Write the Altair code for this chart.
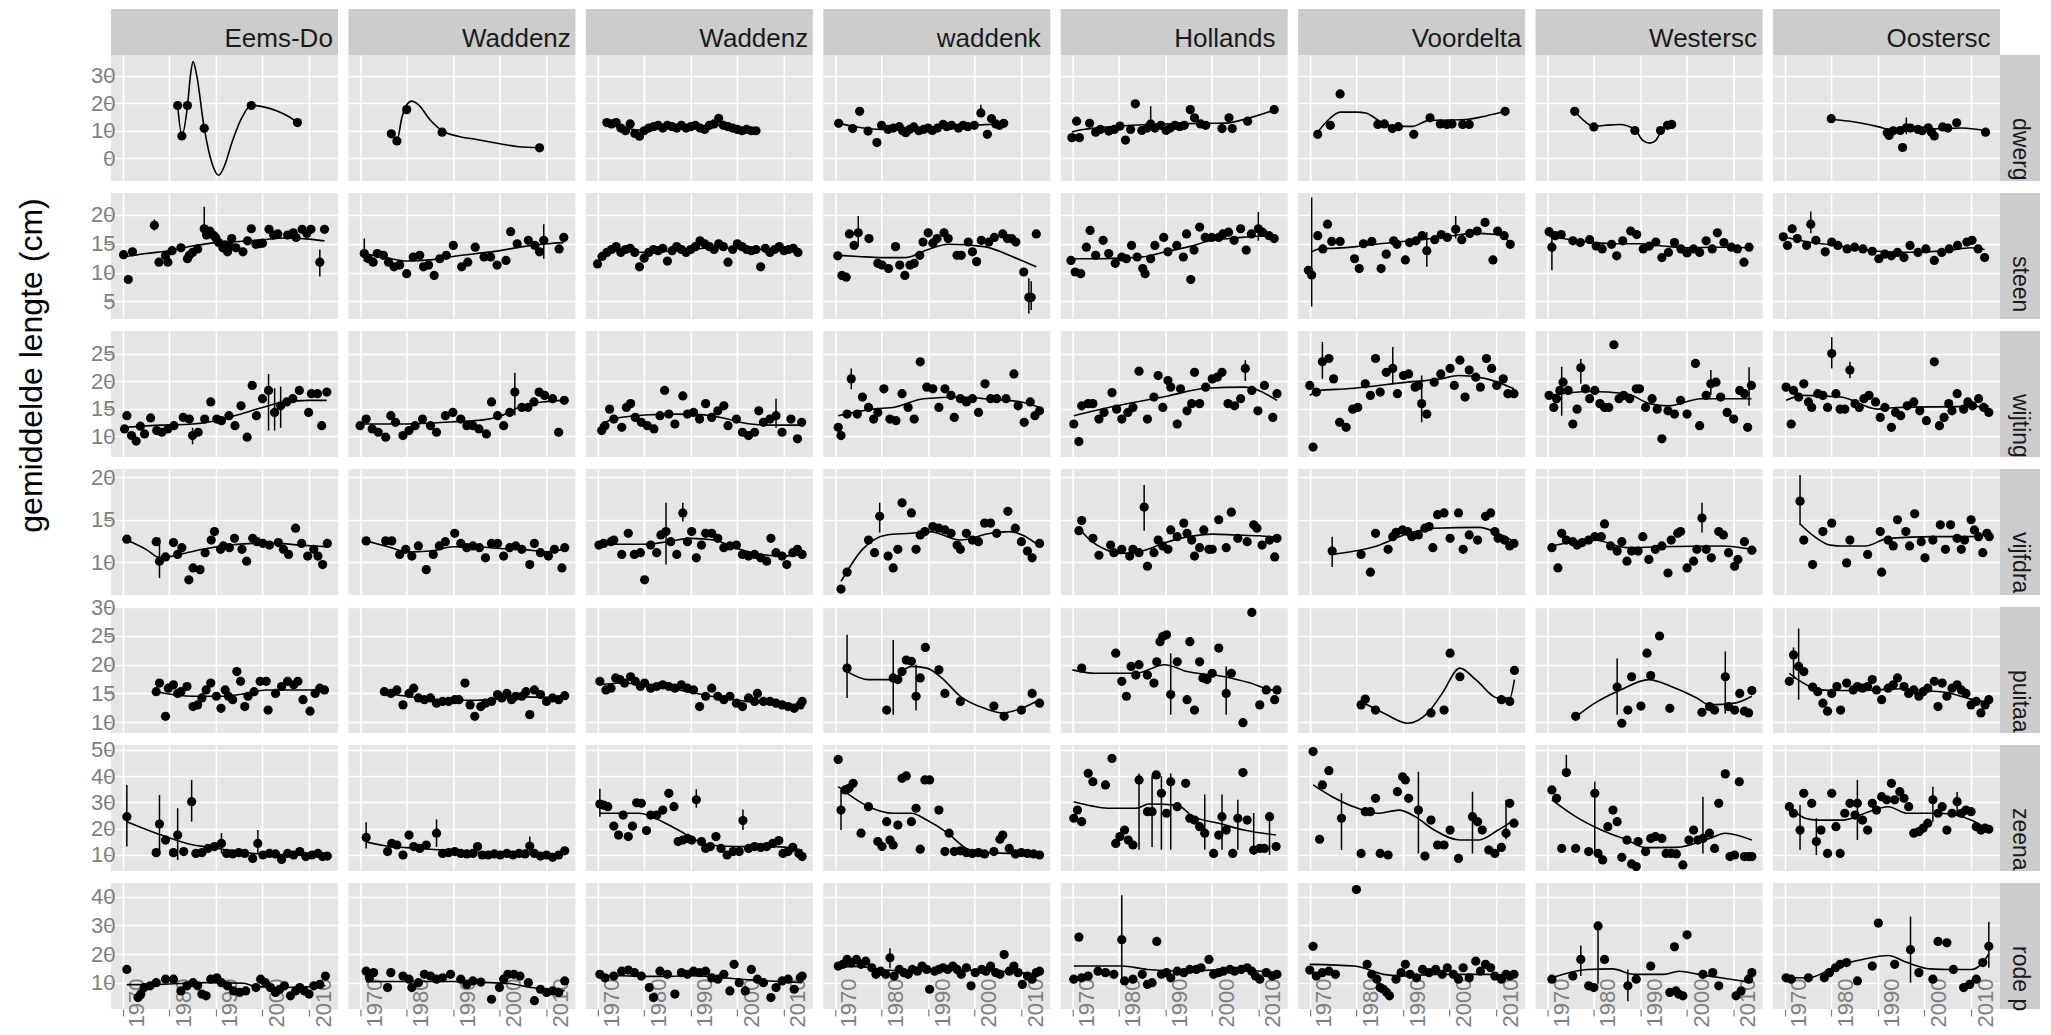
import altair as alt
import pandas as pd

REGIONS = ["Eems-Dollard", "Waddenzee west", "Waddenzee oost", "waddenkust",
           "Hollandse kust", "Voordelta", "Westerschelde", "Oosterschelde"]
SPECIES = ["dwergtong", "steenbolk", "wijting", "vijfdradige meun",
           "puitaal", "zeenaald", "rode poon"]

X_DOMAIN = [1967.5, 2016.2]
X_TICKS = [1970, 1980, 1990, 2000, 2010]
Y_DOMAINS = [[-8.3, 37.6], [1.95, 23.8], [6.2, 29.1], [6.1, 21.0],
             [8.1, 30.05], [3.9, 51.9], [0.8, 44.8]]
Y_TICKS = [[0, 10, 20, 30], [5, 10, 15, 20], [10, 15, 20, 25], [10, 15, 20],
           [10, 15, 20, 25, 30], [10, 20, 30, 40, 50], [10, 20, 30, 40]]

# ---------------- dwergtong ----------------
DWERGTONG_PTS = [
    [(1981.8, 19.2), (1982.7, 8.1), (1983.9, 19.2), (1987.5, 10.9), (1997.6, 19.2), (2007.5, 13.0)],
    [(1976.7, 8.9), (1977.9, 6.3), (1980.0, 17.7), (1987.6, 9.5), (2008.5, 3.8)],
    [(1972, 13), (1973, 12.5), (1974, 13), (1975, 11), (1976, 10), (1977, 12.5), (1978, 9), (1979, 8),
     (1980, 10), (1981, 11), (1982, 11.5), (1983, 12), (1984, 11), (1985, 12), (1986, 11.5), (1987, 11),
     (1988, 12), (1989, 11), (1990, 11.5), (1991, 12), (1992, 11), (1993, 10.5), (1994, 12), (1995, 12.5),
     (1996, 14.5), (1997, 12), (1998, 11.5), (1999, 11), (2000, 10.5), (2001, 10), (2002, 10.5), (2003, 10), (2004, 10)],
    [(1970.8, 12.7), (1973.8, 10.8), (1975.3, 17.1), (1977.1, 9.9), (1979.0, 5.7), (1980.0, 12.0), (1981.4, 10.5),
     (1982.5, 11.0), (1983.8, 11.5), (1984.5, 10.0), (1985.2, 9.3), (1986.0, 10.5), (1986.9, 11.4), (1988.0, 10.0),
     (1989.0, 10.5), (1990.0, 11.0), (1990.9, 10.1), (1992.0, 11.0), (1993.2, 12.3), (1994.0, 11.5), (1995.0, 12.0),
     (1996.5, 11.0), (1997.5, 12.0), (1998.5, 11.5), (1999.9, 12.0), (2001.3, 16.5), (2002.7, 8.7), (2003.6, 14.4),
     (2004.5, 12.5), (2005.3, 12.0), (2006.2, 12.7)],
    [(1969.9, 7.5), (1970.9, 13.5), (1971.5, 7.5), (1973.7, 12.7), (1975.0, 9.5), (1976.0, 10.5), (1977.8, 9.9),
     (1979.0, 10.5), (1980.2, 11.7), (1981.4, 6.6), (1982.5, 10.5), (1983.5, 19.8), (1984.9, 10.1), (1986.0, 11.0),
     (1986.8, 12.5), (1987.7, 11.0), (1989.0, 12.0), (1990.1, 10.1), (1991.0, 11.0), (1992.0, 12.0), (1993.0, 11.5),
     (1994.0, 12.0), (1995.3, 17.7), (1996.2, 14.7), (1997.5, 12.5), (1998.6, 12.0), (2002.1, 10.8), (2003.6, 14.7),
     (2004.3, 10.8), (2007.6, 13.5), (2013.3, 17.7)],
    [(1971.7, 8.7), (1974.4, 12.0), (1976.5, 23.4), (1984.6, 12.3), (1986.0, 12.5), (1987.7, 10.8), (1989.0, 11.5),
     (1992.3, 8.7), (1995.8, 14.7), (1998.0, 12.5), (1999.4, 12.3), (2000.5, 12.5), (2002.8, 12.3), (2004.2, 12.3),
     (2011.9, 17.1)],
    [(1975.9, 17.1), (1980.0, 11.4), (1988.8, 10.1), (1994.3, 10.1), (1995.8, 12.0), (1996.7, 12.3)],
    [(1980.0, 14.4), (1992.0, 9.3), (1992.4, 8.3), (1993.3, 10.0), (1994.8, 10.1), (1995.3, 3.9), (1996.1, 11.1),
     (1997.0, 11.0), (1998.6, 10.5), (1999.5, 10.0), (2000.8, 11.1), (2001.5, 9.5), (2002.1, 8.1), (2003.9, 11.4),
     (2005.0, 11.0), (2006.9, 12.9), (2013.1, 9.5)],
]
DWERGTONG_FIT = [
    [(1981.8, 19.2), (1982.7, 8.3), (1983.9, 19.0), (1984.6, 31), (1985.1, 35.2), (1985.8, 31), (1987.5, 11),
     (1989.2, -2), (1990.6, -6.2), (1991.8, -3), (1993.5, 6), (1995.5, 14.5), (1997.6, 19.3), (2000, 18.8),
     (2003, 17.3), (2005.5, 15.3), (2007.5, 13)],
    [(1976.7, 8.9), (1977.9, 6.6), (1979, 15), (1980, 19.5), (1981.1, 20.8), (1982.5, 19.5), (1985, 14),
     (1987.6, 10), (1991, 8), (1995, 6.8), (2000, 5.3), (2004, 4.2), (2008.5, 3.9)],
    [(1972, 12.3), (1976, 11), (1979, 10.3), (1982, 11), (1986, 11.5), (1990, 11.5), (1994, 11.8), (1997, 12),
     (2000, 11), (2004, 10.2)],
    [(1970.8, 12.7), (1975, 11.3), (1980, 10.5), (1985, 10.5), (1990, 10.8), (1995, 11.3), (2000, 12),
     (2003, 12.3), (2006.2, 12.6)],
    [(1969.9, 9.6), (1972, 10.4), (1975, 11), (1981, 11.8), (1986, 12.3), (1992, 12.5), (1998, 12.7), (2003, 12.8),
     (2007.6, 14.5), (2013.3, 17.5)],
    [(1971.7, 9.5), (1974, 14), (1976.5, 16.8), (1980, 16.8), (1982, 16.5), (1985, 13.5), (1988, 11.6),
     (1992, 11.6), (1995.6, 13.8), (2000, 13.9), (2004, 14.2), (2008, 15.5), (2011.9, 17.1)],
    [(1975.9, 17.1), (1978, 13.5), (1980, 11.6), (1982.5, 12), (1985.5, 12.3), (1988.8, 10.5), (1990.5, 6.5),
     (1992, 5.5), (1993.3, 6.5), (1994.3, 9.5), (1995.8, 12), (1996.7, 12.4)],
    [(1980, 14.2), (1985, 13.2), (1990, 11.5), (1993, 10.3), (1996, 10.5), (2000, 10.6), (2004, 10.8),
     (2008, 11), (2013.1, 10)],
]

# ---------------- steenbolk ----------------
STEENBOLK_PTS = [
    [(1970.2, 13.1), (1971.2, 8.8), (1972.1, 13.6), (1976.8, 18.2), (1977.8, 11.8), (1979.2, 12.9), (1979.7, 11.8),
     (1980.6, 13.8), (1982.5, 14.3), (1983.9, 12.4), (1984.3, 13.0), (1985.0, 13.5), (1986.1, 14.1), (1987.5, 17.6),
     (1988.0, 16.5), (1988.7, 17.2), (1989.6, 16.4), (1990.0, 16.0), (1990.6, 15.2), (1991.5, 14.3), (1992.0, 14.8),
     (1992.5, 13.6), (1993.0, 14.5), (1993.4, 15.9), (1994.3, 14.3), (1995.8, 13.6), (1996.8, 15.5), (1997.6, 17.6),
     (1998.6, 14.9), (1999.3, 15.0), (2000.0, 15.1), (2001.4, 17.5), (2002.4, 16.5), (2003.3, 16.7), (2005.4, 16.5),
     (2006.6, 16.9), (2007.2, 16.1), (2008.5, 17.5), (2009.5, 16.8), (2010.4, 17.5), (2012.3, 11.8), (2013.3, 17.5)],
    [(1970.9, 13.3), (1971.8, 12.4), (1972.8, 11.8), (1973.7, 13.3), (1975.0, 13.0), (1976.1, 11.8), (1977.3, 11.0),
     (1978.5, 11.3), (1980.0, 9.8), (1981.4, 12.7), (1982.8, 13.0), (1983.6, 11.0), (1984.7, 11.3), (1985.9, 9.5),
     (1987.1, 12.4), (1988.5, 13.0), (1990.0, 14.7), (1991.8, 11.0), (1993.1, 11.8), (1994.7, 14.4), (1996.6, 12.7),
     (1998.0, 12.7), (1999.4, 11.3), (2001.3, 12.1), (2002.3, 17.1), (2003.7, 15.0), (2006.1, 15.6), (2007.5, 14.7),
     (2008.5, 13.6), (2009.4, 15.6), (2012.7, 14.1), (2013.7, 16.1)],
    [(1970, 11.5), (1971, 12.8), (1972, 13.5), (1973, 14), (1974, 14.5), (1975, 13.5), (1976, 14), (1977, 14.2),
     (1978, 13.5), (1979, 11), (1980, 12.5), (1981, 13.5), (1982, 14), (1983, 13.8), (1984, 14.2), (1985, 12),
     (1986, 13.8), (1987, 14.5), (1988, 14), (1989, 13.5), (1990, 14), (1991, 14.5), (1992, 15.5), (1993, 15),
     (1994, 14.5), (1995, 14), (1996, 15), (1997, 14.5), (1998, 11.8), (1999, 14), (2000, 15), (2001, 14.5),
     (2002, 14), (2003, 13.8), (2004, 14), (2005, 11), (2006, 14.2), (2007, 13.5), (2008, 14), (2009, 14.5),
     (2010, 13.8), (2011, 14), (2012, 14.2), (2013, 13.5)],
    [(1970.6, 12.9), (1971.5, 9.5), (1972.4, 9.2), (1973.1, 16.7), (1974.1, 14.7), (1975.0, 16.9), (1977.3, 15.9),
     (1979.2, 11.6), (1980.1, 11.3), (1981.5, 10.7), (1983.0, 14.5), (1983.9, 11.3), (1985.0, 9.5), (1986.1, 11.3),
     (1987.0, 11.6), (1988.2, 13.0), (1988.9, 15.3), (1990.0, 16.9), (1991.0, 15.1), (1991.9, 15.9), (1993.4, 16.9),
     (1994.3, 15.9), (1996.2, 13.0), (1997.1, 13.0), (1998.6, 15.3), (1999.5, 13.6), (2000.4, 11.9), (2001.4, 15.6),
     (2003.0, 15.3), (2004.2, 16.1), (2006.0, 16.7), (2007.0, 15.9), (2007.9, 15.9), (2008.8, 15.3), (2010.5, 10.1),
     (2011.6, 5.7), (2012.1, 5.7), (2013.2, 16.7)],
    [(1969.7, 12.1), (1970.6, 10.1), (1971.8, 9.8), (1973.0, 14.4), (1973.8, 17.3), (1975.0, 13.0), (1976.6, 15.6),
     (1977.8, 13.3), (1979.2, 11.6), (1980.6, 12.7), (1981.6, 12.4), (1982.7, 14.7), (1983.9, 12.7), (1985.1, 10.7),
     (1985.6, 9.8), (1986.8, 12.4), (1987.7, 14.7), (1989.6, 16.1), (1990.5, 13.6), (1992.4, 14.7), (1993.8, 12.7),
     (1994.5, 16.7), (1995.4, 8.8), (1996.1, 13.9), (1997.3, 17.9), (1998.5, 16.1), (1999.9, 16.1), (2001.4, 16.1),
     (2002.3, 16.7), (2003.5, 17.0), (2004.7, 15.6), (2006.1, 17.6), (2007.3, 13.9), (2008.4, 16.7), (2009.9, 17.6),
     (2010.8, 17.0), (2012.2, 16.4), (2013.3, 15.9)],
    [(1969.7, 10.4), (1970.4, 9.6), (1971.7, 16.4), (1972.8, 14.1), (1973.8, 18.4), (1974.7, 15.4), (1976.5, 15.4),
     (1979.6, 12.4), (1980.6, 10.7), (1981.5, 15.0), (1983.3, 15.4), (1985.3, 10.7), (1986.4, 13.2), (1988.0, 15.5),
     (1988.7, 14.9), (1990.5, 12.2), (1991.4, 15.2), (1992.8, 15.5), (1994.1, 16.4), (1995.1, 13.8), (1996.8, 15.7),
     (1998.2, 16.6), (1999.5, 16.1), (2001.3, 17.5), (2002.6, 15.7), (2004.3, 16.8), (2005.9, 17.2), (2007.6, 18.7),
     (2009.3, 12.2), (2010.3, 17.2), (2011.7, 16.4), (2013.0, 14.9)],
    [(1970.4, 17.1), (1971.0, 14.4), (1971.7, 16.4), (1973.0, 16.6), (1975.5, 15.5), (1977.1, 15.2), (1979.1, 15.7),
     (1980.5, 14.6), (1981.8, 14.1), (1983.8, 14.9), (1984.9, 12.9), (1986.2, 15.5), (1987.9, 17.2), (1989.2, 16.6),
     (1990.6, 14.1), (1991.9, 14.6), (1993.3, 15.3), (1994.6, 12.6), (1996.0, 13.5), (1997.3, 15.2), (1998.7, 14.1),
     (2000.0, 13.4), (2001.4, 14.1), (2002.7, 13.5), (2004.1, 15.5), (2005.4, 14.1), (2006.5, 16.9), (2007.9, 15.2),
     (2009.5, 14.4), (2010.8, 14.1), (2012.2, 11.8), (2013.3, 14.4)],
    [(1969.7, 16.2), (1970.6, 14.7), (1971.6, 17.6), (1972.7, 15.9), (1974.7, 14.7), (1975.6, 18.4), (1976.7, 15.6),
     (1978.7, 13.6), (1980.1, 15.3), (1981.4, 14.7), (1983.4, 14.1), (1985.0, 14.4), (1986.8, 14.1), (1988.8, 13.7),
     (1990.2, 12.4), (1991.5, 13.2), (1992.9, 12.9), (1994.2, 13.5), (1995.6, 12.6), (1996.9, 14.7), (1998.6, 13.5),
     (2000.3, 14.1), (2002.1, 12.1), (2003.7, 13.5), (2005.3, 14.1), (2007.1, 14.7), (2009.1, 15.3), (2010.2, 15.6),
     (2011.5, 14.1), (2012.9, 12.6)],
]
STEENBOLK_FIT = [
    [(1970.2, 12.7), (1975, 13.3), (1980, 13.8), (1985, 14.6), (1990, 15.2), (1995, 15.4), (2000, 15.7),
     (2005, 16), (2010, 15.8), (2013.3, 15.5)],
    [(1970.9, 13.3), (1976, 12.5), (1980, 12), (1985, 12.2), (1990, 12.8), (1995, 13.3), (2000, 13.8),
     (2005, 14.5), (2010, 15), (2013.7, 15.2)],
    [(1970, 12.8), (1975, 13.8), (1980, 13.5), (1990, 14), (1995, 14.3), (2005, 14), (2013, 13.8)],
    [(1970.6, 13), (1975, 12.8), (1980, 12.6), (1985.2, 12.6), (1990, 14), (1994.3, 14.9), (2002, 14.5),
     (2008, 12.8), (2013.2, 11)],
    [(1969.7, 12.4), (1975, 12.4), (1980, 12.5), (1985, 12.7), (1990, 13.6), (1995, 14.5), (2000, 15.6),
     (2005, 16), (2010, 16.3), (2013.3, 16.3)],
    [(1970.4, 13.6), (1972, 14.1), (1975, 14.2), (1980, 14.5), (1985, 15), (1990, 15.4), (1995, 15.8),
     (2000, 16.3), (2005, 16.8), (2010, 16.6), (2013, 15.3)],
    [(1970.4, 16.3), (1975, 15.7), (1980, 15.2), (1985, 15), (1990, 15), (1995, 14.6), (2000, 14.3),
     (2005, 14.4), (2010, 14.4), (2013.3, 14.3)],
    [(1969.7, 16.2), (1975, 15.3), (1980, 14.8), (1985, 14.2), (1990, 13.7), (1995, 13.5), (2000, 13.6),
     (2005, 13.8), (2010, 14.3), (2012.9, 14)],
]

# ---------------- wijting ----------------
WIJTING_PTS = [
    [(1970.4, 11.3), (1970.9, 13.7), (1971.9, 10.1), (1972.9, 9.1), (1973.8, 11.8), (1974.7, 10.4), (1976.0, 13.3),
     (1977.3, 11.0), (1978.4, 10.7), (1979.7, 11.3), (1981.0, 11.9), (1983.0, 13.4), (1984.3, 13.1), (1985.0, 10.1),
     (1986.2, 10.7), (1987.6, 13.1), (1988.9, 16.2), (1990.2, 13.1), (1991.2, 12.8), (1992.8, 13.7), (1994.1, 11.9),
     (1995.4, 15.5), (1996.7, 9.8), (1997.8, 19.2), (1998.7, 13.7), (2000.0, 16.8), (2001.3, 18.3), (2002.6, 14.3),
     (2003.9, 15.5), (2005.2, 16.2), (2006.5, 16.8), (2007.9, 18.3), (2009.9, 14.3), (2010.5, 17.7), (2011.8, 17.7),
     (2012.7, 11.9), (2013.8, 18.0)],
    [(1970.0, 11.9), (1971.3, 13.1), (1972.6, 11.3), (1973.9, 10.7), (1975.5, 9.8), (1976.6, 13.7), (1977.6, 12.5),
     (1979.2, 10.1), (1980.5, 11.0), (1981.8, 11.9), (1983.4, 13.1), (1985.1, 11.9), (1986.4, 10.7), (1988.3, 13.7),
     (1989.9, 14.3), (1991.6, 13.1), (1992.9, 11.9), (1994.2, 11.9), (1995.5, 11.3), (1997.1, 10.4), (1998.2, 16.2),
     (1999.5, 13.7), (2000.8, 11.9), (2002.1, 14.3), (2003.2, 18.0), (2004.7, 15.2), (2006.0, 15.2), (2007.3, 16.2),
     (2008.4, 18.0), (2009.6, 17.4), (2011.3, 16.8), (2012.6, 10.7), (2013.8, 16.5)],
    [(1970.9, 11.0), (1971.6, 11.9), (1972.6, 14.9), (1973.5, 13.1), (1975.2, 11.6), (1976.2, 15.2), (1977.1, 15.9),
     (1978.1, 13.4), (1979.4, 12.5), (1980.7, 11.9), (1982.1, 11.3), (1983.4, 13.7), (1984.4, 18.3), (1985.3, 14.0),
     (1986.6, 12.2), (1988.3, 17.3), (1989.3, 14.0), (1990.6, 14.3), (1991.9, 13.1), (1993.2, 15.9), (1994.5, 13.4),
     (1995.8, 14.6), (1997.1, 15.5), (1998.0, 11.9), (1999.8, 13.1), (2001.1, 10.7), (2002.4, 10.1), (2003.7, 10.7),
     (2004.6, 14.6), (2005.6, 12.5), (2007.0, 13.1), (2008.3, 13.7), (2009.6, 10.7), (2011.5, 13.1), (2012.9, 9.5),
     (2013.8, 12.5)],
    [(1970.7, 11.6), (1971.3, 10.1), (1972.6, 14.0), (1973.5, 20.4), (1974.8, 14.0), (1975.9, 17.1), (1977.2, 15.2),
     (1978.3, 13.1), (1979.2, 14.3), (1980.5, 18.6), (1981.8, 13.1), (1983.1, 12.8), (1984.4, 17.7), (1985.7, 15.2),
     (1987.0, 13.1), (1988.3, 23.5), (1989.7, 18.9), (1991.0, 18.6), (1992.3, 15.2), (1993.6, 18.6), (1994.9, 17.4),
     (1995.6, 13.4), (1996.9, 16.8), (1998.2, 16.2), (1999.5, 16.8), (2000.8, 14.3), (2002.2, 19.5), (2003.4, 16.8),
     (2004.7, 16.8), (2006.7, 16.8), (2008.4, 21.3), (2009.3, 15.5), (2010.6, 12.5), (2011.9, 16.2), (2012.9, 13.7),
     (2013.9, 14.6)],
    [(1970.3, 12.2), (1971.4, 9.0), (1972.0, 15.5), (1973.4, 15.9), (1974.4, 15.9), (1975.7, 13.1), (1976.8, 14.3),
     (1978.5, 17.9), (1979.5, 14.9), (1980.6, 13.1), (1981.9, 14.3), (1983.0, 15.2), (1984.3, 21.8), (1986.1, 13.1),
     (1987.5, 17.1), (1988.4, 21.0), (1989.4, 15.2), (1990.5, 20.1), (1991.1, 18.9), (1992.5, 12.2), (1993.2, 18.6),
     (1994.6, 14.6), (1995.6, 15.9), (1996.2, 21.6), (1997.3, 15.9), (1998.6, 18.9), (2000.0, 20.4), (2001.1, 20.7),
     (2002.1, 21.6), (2003.4, 15.9), (2004.8, 15.5), (2006.1, 16.8), (2007.1, 22.3), (2008.5, 18.3), (2009.8, 14.6),
     (2011.2, 19.2), (2013.0, 13.4), (2013.9, 17.7)],
    [(1970.0, 19.2), (1970.7, 8.0), (1971.4, 18.0), (1972.7, 23.5), (1974.1, 24.1), (1975.1, 20.4), (1976.4, 12.5),
     (1977.8, 11.6), (1979.2, 14.9), (1980.3, 15.2), (1981.9, 19.5), (1983.0, 17.4), (1984.1, 24.1), (1985.1, 18.0),
     (1986.4, 21.6), (1987.8, 22.3), (1988.8, 17.7), (1990.1, 21.0), (1991.2, 21.3), (1992.6, 18.9), (1993.3, 19.2),
     (1994.0, 15.9), (1995.1, 14.0), (1996.7, 19.8), (1998.1, 21.3), (2000.1, 22.3), (2001.0, 19.2), (2002.2, 23.8),
     (2003.3, 17.1), (2004.2, 22.0), (2005.6, 20.7), (2006.6, 18.9), (2007.9, 24.1), (2009.0, 22.3), (2010.1, 19.2),
     (2011.5, 20.4), (2012.5, 17.7), (2013.8, 17.7)],
    [(1970.4, 17.4), (1971.4, 15.2), (1972.0, 16.8), (1972.7, 18.3), (1973.4, 19.8), (1974.5, 18.3), (1975.5, 12.2),
     (1976.4, 14.9), (1977.2, 22.4), (1978.2, 18.6), (1979.1, 16.8), (1980.2, 18.3), (1981.3, 15.9), (1982.3, 15.2),
     (1983.2, 15.2), (1984.3, 26.6), (1985.4, 16.8), (1986.4, 17.4), (1987.7, 16.8), (1989.1, 18.6), (1989.8, 18.6),
     (1991.1, 15.2), (1992.5, 16.8), (1993.6, 14.9), (1994.6, 9.5), (1995.9, 14.6), (1997.3, 14.0), (1998.6, 16.5),
     (2000.0, 14.0), (2001.8, 23.2), (2002.7, 11.9), (2004.1, 17.4), (2005.1, 19.5), (2006.2, 19.8), (2007.2, 17.1),
     (2008.6, 14.3), (2010.0, 13.1), (2011.3, 18.3), (2012.3, 17.7), (2013.0, 11.6), (2013.8, 19.2)],
    [(1970.3, 18.9), (1971.4, 12.2), (1971.9, 18.3), (1973.0, 17.1), (1974.1, 19.5), (1975.1, 16.2), (1975.8, 15.2),
     (1977.1, 17.7), (1978.2, 17.4), (1979.2, 15.2), (1980.1, 25.0), (1981.0, 17.7), (1981.9, 14.9), (1982.9, 14.9),
     (1984.0, 22.0), (1985.1, 15.9), (1986.0, 15.2), (1987.0, 16.8), (1988.1, 17.4), (1989.5, 16.2), (1990.5, 13.4),
     (1991.5, 15.2), (1992.9, 11.6), (1993.8, 14.3), (1994.9, 13.7), (1996.3, 15.5), (1997.7, 16.2), (1999.0, 14.6),
     (2000.4, 12.8), (2002.1, 23.5), (2003.2, 11.9), (2004.2, 13.4), (2005.2, 15.9), (2005.9, 14.6), (2007.0, 17.7),
     (2008.4, 14.9), (2009.3, 16.2), (2010.3, 15.5), (2011.6, 16.8), (2012.7, 15.2), (2013.8, 14.3)],
]
WIJTING_FIT = [
    [(1970.4, 11.6), (1978.4, 12), (1985, 12.2), (1990, 12.8), (1994, 13.7), (2000, 15.2), (2004.5, 16.2),
     (2010, 16.5), (2013.8, 16.5)],
    [(1970, 12.2), (1980, 12.2), (1990, 12.6), (1996, 12.9), (2000, 13.6), (2004, 15.2), (2009, 16.2), (2013.8, 16.5)],
    [(1970.5, 11.9), (1973, 13), (1977, 13.6), (1982, 13.9), (1987, 14), (1992, 13.9), (1997, 13.3), (2002, 12.3),
     (2007, 12), (2013.8, 12)],
    [(1970.7, 13.7), (1978, 14.9), (1983, 15.3), (1989, 16.8), (1997, 17.1), (2002, 16.8), (2010, 16.2), (2013.9, 15.2)],
    [(1970.3, 13.7), (1979.5, 15.5), (1990.5, 17.3), (1998.6, 18.7), (2006.8, 18.9), (2013.9, 16.5)],
    [(1970, 17.4), (1972, 18.3), (1978, 18.6), (1991, 19.8), (1998, 20.4), (2002, 21), (2008, 20.4), (2013.8, 18.6)],
    [(1970.4, 17.4), (1979, 18.1), (1987, 17.7), (1992, 15.9), (1996, 15.5), (2003, 16.8), (2013.8, 16.8)],
    [(1970.3, 16.5), (1974, 17.4), (1982, 17.1), (1990, 14.9), (1994, 15.2), (2013.8, 15.4)],
]

# ---------------- vijfdradige meun ----------------
VIJFDRA_PTS = [
    [(1970.9, 12.7), (1977.2, 12.4), (1977.9, 10.1), (1979.2, 10.6), (1980.9, 12.3), (1981.8, 10.9), (1982.7, 11.7),
     (1984.2, 7.9), (1985.1, 9.3), (1986.6, 9.1), (1987.7, 11.1), (1989.0, 12.6), (1989.7, 13.6), (1991.0, 11.5),
     (1991.6, 11.9), (1992.9, 11.7), (1994.0, 12.8), (1995.6, 11.5), (1996.6, 10.1), (1997.9, 12.8), (1998.8, 12.4),
     (2000.1, 12.2), (2001.5, 12.0), (2003.4, 12.3), (2004.5, 11.5), (2005.6, 10.9), (2007.1, 14.0), (2008.4, 12.2),
     (2009.7, 10.7), (2011.0, 11.5), (2011.9, 10.7), (2012.9, 9.7), (2013.9, 12.2)],
    [(1971.3, 12.5), (1975.5, 12.5), (1976.8, 12.5), (1978.5, 10.9), (1979.8, 11.5), (1981.1, 10.7), (1982.5, 11.9),
     (1984.2, 9.1), (1985.7, 10.9), (1987.0, 11.9), (1988.3, 12.4), (1990.3, 13.4), (1991.6, 12.2), (1992.9, 11.7),
     (1994.2, 11.9), (1995.6, 11.7), (1996.9, 10.5), (1998.2, 12.2), (1999.5, 12.2), (2000.8, 10.7), (2002.1, 11.7),
     (2003.4, 11.9), (2004.7, 11.5), (2006.4, 9.7), (2007.4, 12.2), (2008.7, 11.1), (2010.4, 10.7), (2011.7, 11.5),
     (2013.3, 9.3), (2013.9, 11.7)],
    [(1970.3, 12.0), (1971.3, 12.2), (1972.9, 12.4), (1973.5, 12.6), (1975.2, 10.9), (1976.6, 13.4), (1977.9, 10.9),
     (1979.2, 11.1), (1980.1, 7.9), (1981.4, 12.0), (1982.7, 11.1), (1983.6, 13.2), (1984.7, 13.6), (1985.7, 12.4),
     (1987.0, 10.9), (1988.3, 15.8), (1989.3, 12.4), (1990.2, 13.6), (1991.2, 10.5), (1992.3, 12.0), (1993.2, 13.4),
     (1994.5, 13.4), (1995.8, 12.8), (1997.1, 11.7), (1998.4, 11.9), (1999.8, 12.0), (2001.1, 10.9), (2002.4, 10.7),
     (2003.7, 10.9), (2005.0, 10.5), (2006.3, 10.1), (2007.2, 12.8), (2008.3, 11.1), (2009.6, 10.7), (2010.6, 9.7),
     (2011.9, 11.1), (2012.9, 11.5), (2013.9, 10.9)],
    [(1971.3, 6.8), (1972.6, 8.8), (1977.2, 12.6), (1978.5, 11.1), (1979.6, 15.4), (1981.4, 10.7), (1982.5, 9.3),
     (1983.5, 11.5), (1984.4, 17.0), (1986.4, 15.8), (1987.4, 11.5), (1988.3, 13.2), (1989.3, 13.6), (1991.0, 14.2),
     (1992.3, 14.0), (1993.6, 13.8), (1994.9, 13.4), (1996.2, 12.0), (1996.9, 11.5), (1998.2, 13.4), (1999.5, 12.6),
     (2000.8, 12.4), (2002.1, 14.6), (2003.4, 14.6), (2004.7, 13.4), (2007.1, 16.0), (2008.7, 14.0), (2010.0, 12.4),
     (2011.3, 11.3), (2012.3, 10.5), (2013.9, 12.2)],
    [(1971.4, 13.7), (1972.0, 14.9), (1974.4, 12.8), (1975.7, 10.8), (1978.2, 12.0), (1978.9, 11.1), (1980.6, 11.5),
     (1982.3, 10.7), (1983.0, 11.5), (1984.3, 11.1), (1985.4, 16.5), (1986.1, 9.5), (1987.5, 11.1), (1988.4, 12.6),
     (1989.4, 11.9), (1990.5, 11.5), (1991.1, 13.8), (1992.5, 13.0), (1993.9, 14.6), (1994.6, 13.4), (1995.6, 12.6),
     (1996.2, 10.7), (1997.3, 11.7), (1998.2, 13.8), (1999.3, 11.5), (2000.0, 11.5), (2001.4, 15.0), (2003.0, 11.7),
     (2004.1, 15.9), (2005.5, 12.8), (2007.5, 12.4), (2008.9, 14.4), (2009.6, 14.0), (2010.7, 12.0), (2012.3, 12.6),
     (2013.4, 10.6), (2013.9, 12.8)],
    [(1974.8, 11.3), (1981.0, 10.9), (1983.0, 8.8), (1984.1, 13.4), (1986.8, 11.5), (1987.8, 13.0), (1988.5, 13.5),
     (1989.9, 13.8), (1991.0, 13.6), (1991.9, 13.0), (1993.3, 13.2), (1994.7, 14.0), (1995.6, 14.2), (1996.4, 11.7),
     (1997.4, 15.6), (1998.8, 15.8), (2000.1, 12.8), (2001.9, 15.8), (2002.9, 11.5), (2004.2, 13.2), (2006.0, 12.6),
     (2007.7, 15.4), (2008.8, 15.8), (2009.7, 13.6), (2010.4, 12.8), (2011.8, 12.6), (2012.9, 11.9), (2013.8, 12.2)],
    [(1971.0, 11.7), (1972.3, 9.3), (1973.1, 13.4), (1974.1, 12.6), (1975.5, 12.4), (1976.4, 12.0), (1977.5, 12.3),
     (1978.9, 12.6), (1980.2, 13.0), (1981.6, 13.0), (1982.3, 14.5), (1983.6, 11.9), (1985.0, 11.3), (1986.0, 12.4),
     (1987.1, 10.1), (1988.1, 11.3), (1989.5, 11.3), (1990.5, 13.0), (1991.8, 10.3), (1993.2, 11.5), (1994.6, 11.9),
     (1995.9, 8.7), (1996.6, 12.6), (1998.0, 13.4), (1998.6, 13.6), (2000.0, 9.3), (2001.4, 10.1), (2002.1, 11.5),
     (2003.2, 15.2), (2004.1, 11.5), (2005.2, 10.5), (2006.8, 13.6), (2007.8, 13.2), (2008.9, 11.1), (2010.2, 9.5),
     (2010.9, 10.3), (2012.3, 12.4), (2013.9, 11.4)],
    [(1973.3, 17.2), (1974.1, 12.6), (1976.0, 9.7), (1978.2, 13.6), (1980.1, 14.6), (1983.3, 9.9), (1984.0, 12.6),
     (1987.8, 10.9), (1990.5, 13.6), (1990.8, 8.8), (1992.2, 12.6), (1993.3, 11.9), (1994.2, 15.0), (1996.0, 13.6),
     (1996.8, 11.9), (1997.9, 15.7), (1999.3, 12.4), (2000.1, 10.5), (2001.8, 12.6), (2003.4, 14.4), (2004.5, 11.5),
     (2005.6, 14.4), (2007.0, 12.8), (2007.9, 11.5), (2008.6, 12.6), (2010.0, 15.0), (2010.7, 13.8), (2011.6, 13.0),
     (2012.5, 11.1), (2013.4, 13.4), (2013.9, 13.0)],
]
VIJFDRA_FIT = [
    [(1970.9, 12.6), (1975, 11.5), (1978, 10.5), (1983, 11), (1988, 11.6), (1993, 12), (1998, 12.2), (2003, 12.2),
     (2008, 12), (2013.9, 11.8)],
    [(1971.3, 12.5), (1976, 11.8), (1980, 11.2), (1985, 11.3), (1990, 11.8), (1995, 11.8), (2000, 11.6),
     (2005, 11.5), (2010, 11.2), (2013.9, 11.5)],
    [(1970.3, 12.2), (1975, 12.1), (1980, 12.1), (1985, 12.4), (1990, 12.8), (1995, 12.6), (2000, 11.6),
     (2005, 10.9), (2010, 10.7), (2013.9, 10.9)],
    [(1971.3, 7.7), (1975.9, 11.5), (1981.1, 13.2), (1986.4, 13.4), (1990.3, 13.6), (1996.9, 12.6), (2003.4, 13.4),
     (2007.4, 13.6), (2013.9, 11.9)],
    [(1971.4, 14), (1974, 12.5), (1977, 11.5), (1980, 11), (1985, 11.3), (1990, 12.3), (1995, 13), (2000, 13.3),
     (2005, 13.2), (2010, 13.1), (2013.9, 12.9)],
    [(1974.8, 10.9), (1984.4, 11.9), (1991.2, 13.4), (1996.7, 14), (2006.3, 14.1), (2010.4, 13.4), (2013.8, 12.4)],
    [(1971, 11.9), (1980.2, 12.6), (1987, 11.7), (1993.8, 11.8), (2007.5, 11.9), (2013.9, 11.5)],
    [(1973.3, 14.5), (1976.4, 13), (1979.8, 12), (1982.5, 11.9), (1987.3, 11.9), (1992.2, 12.8), (2001.8, 13),
     (2010, 13), (2013.9, 13.4)],
]

# ---------------- puitaal ----------------
PUITAAL_PTS = [
    [(1977.2, 15.3), (1977.9, 16.8), (1979.2, 11.0), (1979.8, 15.9), (1980.9, 16.5), (1981.8, 15.0), (1982.5, 15.3),
     (1983.8, 16.2), (1985.1, 12.7), (1986.1, 13.0), (1987.0, 14.2), (1987.9, 15.6), (1988.9, 16.8), (1990.1, 14.5),
     (1991.1, 12.4), (1992.0, 15.6), (1992.7, 14.5), (1993.6, 13.9), (1994.5, 18.8), (1995.3, 17.1), (1996.2, 12.7),
     (1996.9, 14.5), (1998.2, 15.3), (1999.5, 17.1), (2000.8, 17.1), (2001.2, 12.1), (2002.8, 15.0), (2004.1, 16.2),
     (2005.4, 17.1), (2006.7, 16.5), (2007.6, 17.1), (2008.7, 13.9), (2010.2, 11.9), (2011.3, 15.0), (2012.3, 15.9),
     (2013.3, 15.6)],
    [(1975.2, 15.3), (1976.6, 15.0), (1977.9, 15.6), (1979.2, 13.0), (1980.5, 15.0), (1981.5, 15.9), (1982.5, 14.2),
     (1983.8, 13.9), (1985.1, 14.2), (1986.4, 13.3), (1987.7, 13.6), (1989.0, 13.6), (1990.3, 13.9), (1991.2, 13.9),
     (1992.5, 16.8), (1993.6, 13.0), (1994.6, 11.0), (1995.9, 12.7), (1996.9, 13.3), (1998.2, 13.6), (1999.5, 14.8),
     (2000.4, 14.2), (2001.5, 15.0), (2002.5, 13.9), (2003.4, 14.5), (2004.7, 14.5), (2005.6, 15.3), (2006.4, 11.3),
     (2007.4, 15.6), (2008.7, 14.8), (2010.0, 13.6), (2011.3, 14.2), (2012.6, 13.9), (2013.9, 14.6)],
    [(1970.5, 17.1), (1971.8, 15.6), (1972.9, 15.9), (1973.9, 17.7), (1974.8, 17.4), (1975.8, 16.8), (1977.1, 17.9),
     (1978.1, 17.1), (1979.2, 16.2), (1980.1, 16.8), (1981.4, 15.9), (1982.7, 16.2), (1984.0, 16.5), (1985.3, 16.2),
     (1986.6, 15.9), (1988.0, 16.5), (1989.3, 15.9), (1990.6, 15.6), (1991.9, 12.7), (1993.2, 14.5), (1994.5, 15.9),
     (1995.8, 14.5), (1997.1, 13.9), (1998.4, 14.5), (1999.8, 13.3), (2001.1, 12.7), (2002.4, 14.2), (2003.7, 13.6),
     (2004.3, 15.0), (2005.6, 13.6), (2007.0, 13.6), (2008.3, 13.3), (2009.6, 13.0), (2010.9, 12.7), (2012.2, 12.4),
     (2013.5, 13.0), (2013.9, 13.6)],
    [(1972.6, 19.4), (1981.1, 12.1), (1982.5, 17.7), (1983.5, 17.4), (1984.4, 18.8), (1985.3, 20.8), (1986.4, 20.6),
     (1987.4, 14.5), (1988.3, 17.7), (1989.4, 23.0), (1992.3, 19.1), (1993.6, 15.0), (1996.9, 13.6), (2004.1, 12.8),
     (2006.3, 11.0), (2010.0, 12.1), (2012.3, 15.0), (2013.9, 13.3)],
    [(1972.0, 19.4), (1979.3, 22.0), (1980.6, 17.1), (1981.6, 14.5), (1982.6, 19.7), (1983.6, 18.2), (1984.3, 20.0),
     (1986.1, 18.2), (1987.5, 16.8), (1988.1, 20.5), (1988.8, 24.0), (1989.4, 24.9), (1990.2, 25.2), (1991.1, 14.8),
     (1992.5, 20.5), (1994.6, 13.9), (1995.2, 24.0), (1996.2, 12.1), (1997.3, 20.5), (1998.0, 17.7), (1998.9, 17.4),
     (2000.0, 18.5), (2001.4, 22.9), (2003.0, 15.0), (2004.1, 18.5), (2006.6, 9.9), (2008.5, 29.1), (2010.2, 13.0),
     (2011.6, 15.6), (2013.4, 13.9), (2013.9, 15.6)],
    [(1981.0, 13.0), (1981.9, 14.0), (1984.1, 12.1), (1996.0, 11.6), (1998.8, 12.1), (2000.1, 22.0), (2002.2, 17.9),
     (2011.1, 13.9), (2012.9, 13.6), (2013.9, 19.0)],
    [(1976.1, 11.0), (1985.0, 16.1), (1986.0, 9.8), (1987.3, 12.1), (1988.1, 17.9), (1990.1, 12.8), (1991.4, 22.0),
     (1992.2, 18.1), (1994.1, 25.0), (1996.3, 12.4), (2003.2, 11.7), (2004.8, 12.7), (2005.9, 12.1), (2008.2, 17.9),
     (2008.9, 12.7), (2010.2, 12.1), (2011.3, 15.0), (2012.3, 11.9), (2013.2, 11.6), (2013.9, 15.5)],
    [(1971.0, 17.1), (1971.9, 21.7), (1973.0, 19.7), (1974.1, 18.8), (1976.0, 16.1), (1977.1, 15.3), (1978.2, 13.3),
     (1979.2, 11.9), (1980.1, 15.0), (1981.2, 16.2), (1982.0, 12.1), (1983.3, 16.8), (1984.7, 15.6), (1985.6, 16.2),
     (1986.7, 15.9), (1987.8, 16.2), (1988.8, 17.4), (1989.7, 15.6), (1990.8, 13.9), (1992.2, 15.9), (1993.3, 16.5),
     (1994.2, 17.7), (1995.6, 16.2), (1996.6, 15.0), (1997.7, 15.6), (1998.8, 14.5), (1999.7, 15.3), (2000.7, 15.9),
     (2002.1, 17.1), (2002.9, 12.7), (2003.8, 16.8), (2004.8, 14.5), (2005.9, 15.9), (2007.0, 16.5), (2007.9, 15.6),
     (2008.9, 15.0), (2010.0, 13.0), (2011.1, 13.6), (2012.1, 11.6), (2013.0, 13.0), (2013.8, 13.9)],
]
PUITAAL_FIT = [
    [(1977.2, 15.3), (1985, 14.5), (1991, 14.5), (1995, 14.8), (2000.8, 15.6), (2013.3, 15.6)],
    [(1975.2, 15), (1980, 14.5), (1985, 14), (1990, 13.8), (1995, 13.8), (2000, 14), (2005, 14.4), (2010, 14.3),
     (2013.9, 14.2)],
    [(1970.5, 16.5), (1975, 16.8), (1980, 16.5), (1985, 16), (1990, 15.2), (1995, 14.4), (2000, 13.8), (2005, 13.4),
     (2010, 13), (2013.9, 13.2)],
    [(1972.6, 18.8), (1977.2, 17.4), (1981.8, 17.4), (1986.4, 19.7), (1989.7, 19.4), (1992.9, 17.7), (1996.9, 14.5),
     (2002.1, 12.4), (2006, 11.6), (2010, 12.4), (2013.9, 13.9)],
    [(1970, 19.1), (1974.8, 18.5), (1983.6, 18.5), (1989.8, 20), (1994.6, 18.8), (2002.7, 17.9), (2008.2, 16.8),
     (2013, 15.6), (2013.9, 15.9)],
    [(1981, 13.6), (1985.8, 11.6), (1991, 9.8), (1995.3, 11.6), (1998.4, 15), (2002.2, 19.4), (2005.6, 17.4),
     (2010.4, 14.2), (2012.9, 14.2), (2013.9, 17.4)],
    [(1976.1, 10.9), (1980.2, 13.3), (1985.7, 15.6), (1991.8, 17.4), (1996.6, 16.2), (2002.1, 14.2), (2004.8, 13),
     (2010.2, 13.3), (2013.9, 14.5)],
    [(1971, 18.5), (1973, 17.3), (1976, 16), (1980, 15.5), (1985, 15.5), (1990, 15.6), (1995, 15.8), (2000, 15.5),
     (2005, 15.1), (2010, 14), (2013.8, 13.4)],
]

# ---------------- zeenaald ----------------
ZEENAALD_PTS = [
    [(1970.9, 24.6), (1977.2, 10.9), (1977.9, 21.8), (1979.2, 15.7), (1980.9, 10.9), (1981.8, 17.6), (1983.1, 11.3),
     (1984.8, 30.3), (1985.7, 10.6), (1987.0, 10.9), (1988.3, 12.5), (1989.7, 13.2), (1991.2, 14.4), (1992.3, 10.6),
     (1993.6, 10.4), (1994.9, 10.9), (1996.2, 10.6), (1997.9, 8.7), (1999.0, 14.4), (2000.1, 10.0), (2001.5, 10.6),
     (2002.8, 10.4), (2004.1, 8.3), (2005.4, 10.6), (2006.7, 10.0), (2008.0, 11.3), (2009.3, 9.4), (2010.6, 10.0),
     (2011.9, 10.6), (2012.9, 9.4), (2013.9, 9.6)],
    [(1971.3, 16.7), (1975.9, 11.3), (1976.8, 14.4), (1977.9, 13.8), (1979.2, 10.0), (1980.5, 17.6), (1981.5, 13.2),
     (1982.8, 12.5), (1984.2, 13.8), (1986.4, 18.3), (1987.7, 10.6), (1989.0, 10.9), (1990.3, 11.3), (1991.6, 10.6),
     (1992.9, 10.4), (1994.2, 10.6), (1995.2, 13.2), (1996.2, 10.0), (1997.5, 10.0), (1998.8, 10.4), (2000.1, 10.0),
     (2001.5, 10.6), (2002.8, 10.0), (2004.1, 10.6), (2005.4, 10.4), (2006.4, 13.4), (2007.4, 10.6), (2008.7, 9.6),
     (2010.0, 10.0), (2011.3, 9.1), (2012.6, 10.0), (2013.9, 11.6)],
    [(1970.5, 29.4), (1971.3, 29.0), (1972.2, 28.4), (1973.5, 21.0), (1974.5, 17.6), (1975.5, 25.2), (1976.6, 17.0),
     (1977.5, 21.0), (1978.4, 29.9), (1979.4, 29.7), (1980.5, 19.3), (1981.4, 25.2), (1982.7, 25.2), (1984.0, 27.1),
     (1985.3, 33.5), (1986.4, 28.4), (1987.3, 15.1), (1988.3, 15.7), (1989.3, 16.3), (1990.2, 15.7), (1991.2, 31.0),
     (1992.3, 15.1), (1993.2, 12.5), (1994.2, 13.2), (1995.4, 17.0), (1996.5, 12.5), (1997.8, 10.0), (1999.1, 11.3),
     (2000.4, 11.3), (2001.2, 23.1), (2002.4, 12.5), (2003.7, 13.2), (2005.0, 12.9), (2006.3, 13.2), (2007.6, 14.4),
     (2008.9, 15.5), (2009.8, 10.6), (2010.9, 11.3), (2011.9, 12.9), (2013.2, 10.6), (2013.9, 9.4)],
    [(1970.7, 46.4), (1971.3, 27.1), (1972.2, 34.8), (1973.0, 35.4), (1973.9, 37.3), (1975.6, 18.3), (1977.2, 28.4),
     (1979.2, 15.1), (1980.1, 13.2), (1981.1, 22.7), (1981.8, 15.7), (1982.5, 13.8), (1983.5, 21.4), (1984.4, 39.2),
     (1985.3, 40.1), (1986.4, 22.7), (1987.4, 27.8), (1988.3, 12.2), (1989.3, 38.6), (1990.3, 38.6), (1992.3, 27.1),
     (1993.6, 11.3), (1994.5, 18.3), (1995.6, 11.3), (1996.9, 11.6), (1998.2, 10.9), (1999.5, 10.6), (2000.8, 10.9),
     (2002.1, 10.4), (2004.1, 11.3), (2005.4, 16.0), (2006.0, 17.6), (2007.4, 12.5), (2008.7, 10.4), (2010.0, 10.9),
     (2011.3, 10.6), (2012.6, 10.4), (2013.9, 10.0)],
    [(1970.3, 24.0), (1971.1, 27.1), (1972.0, 22.7), (1973.4, 41.1), (1974.4, 37.9), (1977.1, 36.7), (1978.5, 46.8),
     (1979.3, 14.4), (1980.2, 17.0), (1981.2, 19.5), (1982.0, 15.7), (1983.0, 13.8), (1984.3, 38.6), (1986.1, 26.5),
     (1987.1, 26.5), (1988.0, 40.5), (1989.1, 33.5), (1990.2, 25.9), (1991.1, 37.9), (1992.5, 28.4), (1994.3, 37.3),
     (1995.2, 24.0), (1996.2, 23.3), (1997.3, 20.8), (1998.4, 18.3), (2000.3, 10.6), (2001.4, 17.6), (2002.1, 24.6),
     (2003.0, 19.5), (2004.4, 10.6), (2005.5, 24.0), (2006.6, 41.4), (2007.5, 23.3), (2008.9, 11.9), (2010.2, 12.5),
     (2011.2, 12.5), (2012.3, 24.6), (2013.7, 13.2)],
    [(1970.7, 49.4), (1972.1, 16.0), (1972.7, 36.7), (1974.1, 42.1), (1976.8, 24.0), (1981.0, 10.6), (1981.9, 26.5),
     (1983.0, 26.5), (1984.1, 31.6), (1985.1, 10.6), (1986.8, 10.0), (1988.8, 34.1), (1989.9, 39.8), (1990.5, 38.6),
     (1991.2, 31.6), (1993.3, 27.1), (1994.7, 9.6), (1996.0, 23.3), (1997.4, 13.8), (1998.8, 13.8), (2000.1, 19.5),
     (2001.9, 8.7), (2004.9, 24.6), (2006.0, 22.7), (2007.0, 19.5), (2008.4, 11.9), (2009.7, 10.6), (2011.1, 12.9),
     (2012.1, 18.3), (2012.9, 29.7), (2013.8, 22.1)],
    [(1971.0, 34.8), (1972.0, 31.6), (1973.1, 12.5), (1974.1, 41.4), (1976.1, 12.5), (1978.9, 11.3), (1980.2, 33.5),
     (1980.9, 10.6), (1981.9, 8.1), (1983.0, 20.8), (1984.1, 27.1), (1985.0, 22.7), (1986.0, 9.1), (1987.1, 15.7),
     (1988.1, 6.6), (1989.1, 5.6), (1989.5, 15.1), (1991.1, 11.3), (1992.2, 16.3), (1993.2, 17.0), (1994.6, 16.3),
     (1995.5, 10.6), (1996.6, 10.6), (1997.7, 10.4), (1999.1, 6.2), (2000.4, 15.7), (2001.4, 19.5), (2002.3, 15.7),
     (2003.4, 16.3), (2004.8, 18.3), (2005.9, 12.5), (2006.8, 29.7), (2008.2, 40.9), (2009.2, 9.4), (2010.2, 10.0),
     (2011.2, 37.9), (2012.3, 9.4), (2013.2, 9.4), (2013.9, 9.4)],
    [(1971.0, 28.4), (1971.9, 25.9), (1973.3, 19.5), (1974.1, 33.5), (1975.8, 29.7), (1976.8, 15.1), (1977.8, 19.5),
     (1979.2, 10.6), (1980.1, 33.5), (1981.0, 20.8), (1981.9, 10.6), (1982.9, 25.9), (1984.0, 29.7), (1985.1, 25.2),
     (1985.6, 29.7), (1986.7, 23.3), (1987.8, 19.5), (1988.8, 29.7), (1989.7, 27.1), (1990.8, 32.2), (1991.9, 31.0),
     (1992.9, 37.3), (1993.6, 31.0), (1994.7, 34.1), (1995.6, 31.6), (1996.6, 28.4), (1997.7, 18.3), (1998.8, 18.9),
     (1999.7, 20.2), (2000.7, 22.1), (2001.8, 31.0), (2002.9, 25.9), (2003.8, 28.4), (2004.8, 19.5), (2005.9, 25.9),
     (2007.0, 30.3), (2007.9, 25.9), (2008.9, 27.1), (2010.0, 26.5), (2011.1, 20.8), (2012.1, 19.5), (2013.0, 20.2),
     (2013.8, 19.8)],
]
ZEENAALD_FIT = [
    [(1970.9, 22.7), (1977.2, 18.3), (1983.8, 14.4), (1990.4, 12.5), (1999.6, 10.4), (2013.9, 10)],
    [(1971.3, 15), (1975, 13.6), (1980, 12.8), (1985, 12.2), (1990, 11.6), (1995, 11), (2000, 10.6), (2005, 10.4),
     (2010, 10.2), (2013.9, 10.4)],
    [(1970.5, 25.9), (1979, 25.9), (1981.6, 24.6), (1987.3, 19.5), (1993.9, 13.8), (2000.4, 13.2), (2008.3, 13.2),
     (2013.9, 11.9)],
    [(1970.7, 36), (1977.2, 28.4), (1982.5, 25.9), (1986.4, 25.9), (1989.7, 23.3), (1994.2, 18.3), (1998.2, 12.5),
     (2002.1, 10.9), (2013.9, 10.4)],
    [(1970.3, 30.3), (1974.1, 28.7), (1977.5, 27.8), (1983.6, 27.8), (1986.4, 29.4), (1992.5, 29), (1995.9, 24.6),
     (2001.4, 22.1), (2006.8, 19.5), (2013.7, 17.6)],
    [(1970.7, 36.7), (1974.8, 32.2), (1980.3, 27.8), (1984.4, 25.9), (1989.2, 27.1), (1992.6, 24.6), (1996.7, 19.5),
     (2002.2, 15.7), (2006.3, 15.7), (2010.4, 19.5), (2013.8, 23.3)],
    [(1971, 31), (1976.1, 24.6), (1981.6, 19.5), (1987.1, 15.7), (1991.1, 12.8), (1997.7, 12.9), (2004.8, 16.3),
     (2008.2, 18.3), (2013.9, 15.7)],
    [(1971, 28.4), (1974.4, 24), (1977.1, 23.3), (1982.6, 23.3), (1988.1, 26.5), (1992.2, 28.4), (1996.3, 25.9),
     (2003.2, 25.9), (2010, 23.3), (2013.8, 19.5)],
]

# ---------------- rode poon ----------------
RODEPOON_PTS = [
    [(1970.9, 14.6), (1973.3, 4.8), (1973.9, 6.0), (1974.6, 8.3), (1975.9, 8.9), (1977.2, 10.0), (1979.2, 11.2),
     (1980.9, 11.2), (1982.5, 7.1), (1983.8, 8.9), (1985.1, 10.0), (1986.1, 8.9), (1987.0, 6.0), (1987.9, 5.4),
     (1988.9, 11.2), (1990.2, 11.7), (1991.2, 10.0), (1992.5, 8.9), (1993.8, 7.1), (1995.1, 6.6), (1996.4, 7.1),
     (1998.6, 8.3), (1999.6, 11.2), (2000.6, 10.0), (2001.7, 8.3), (2002.8, 6.6), (2003.7, 7.7), (2004.7, 8.9),
     (2006.0, 5.4), (2007.1, 7.1), (2008.0, 8.3), (2009.0, 7.1), (2010.0, 6.0), (2011.0, 8.9), (2012.3, 9.4),
     (2013.5, 12.3)],
    [(1971.3, 14.0), (1972.0, 11.7), (1972.9, 13.5), (1975.9, 8.3), (1976.6, 13.5), (1979.2, 12.3), (1980.5, 11.2),
     (1981.1, 8.3), (1982.5, 10.0), (1983.8, 12.9), (1985.1, 12.3), (1986.4, 11.2), (1987.7, 11.7), (1989.4, 12.9),
     (1991.6, 11.2), (1992.9, 9.4), (1994.2, 10.6), (1995.9, 10.2), (1998.2, 4.2), (1999.9, 8.3), (2000.8, 11.2),
     (2001.7, 12.9), (2003.0, 12.9), (2004.3, 12.3), (2006.1, 10.0), (2007.4, 3.7), (2008.7, 7.7), (2010.0, 6.6),
     (2011.3, 7.1), (2012.6, 6.6), (2013.9, 10.6)],
    [(1970.5, 12.9), (1971.6, 11.7), (1973.5, 12.3), (1975.2, 14.0), (1976.6, 14.4), (1977.9, 13.5), (1979.4, 12.3),
     (1981.1, 8.3), (1982.0, 4.8), (1983.4, 14.0), (1985.0, 12.9), (1986.6, 6.0), (1988.0, 13.5), (1989.3, 12.9),
     (1990.6, 14.0), (1991.9, 13.5), (1993.2, 14.0), (1994.5, 11.7), (1995.8, 11.2), (1997.1, 12.9), (1998.4, 7.1),
     (1999.3, 16.4), (2000.4, 10.0), (2001.7, 7.1), (2003.0, 14.6), (2004.3, 11.2), (2005.6, 10.0), (2007.2, 4.8),
     (2008.3, 8.3), (2009.6, 10.6), (2010.9, 11.2), (2012.2, 7.7), (2013.5, 11.7), (2013.9, 12.3)],
    [(1970.7, 15.8), (1971.7, 16.4), (1972.6, 18.1), (1973.5, 16.9), (1974.6, 18.1), (1975.6, 16.4), (1976.6, 17.5),
     (1977.9, 15.2), (1978.8, 12.9), (1979.8, 14.0), (1980.9, 12.9), (1981.8, 18.7), (1982.7, 12.3), (1983.8, 14.6),
     (1984.8, 13.5), (1985.7, 12.9), (1986.6, 14.6), (1987.7, 14.0), (1988.7, 15.8), (1989.7, 14.6), (1990.3, 7.7),
     (1991.4, 14.0), (1992.3, 14.6), (1993.2, 15.2), (1994.2, 14.6), (1995.3, 15.8), (1996.2, 14.6), (1997.1, 12.9),
     (1998.2, 15.2), (1999.2, 8.9), (2000.1, 13.5), (2001.5, 14.6), (2002.4, 14.0), (2003.4, 15.8), (2004.5, 13.5),
     (2005.4, 12.9), (2006.3, 19.8), (2007.4, 14.0), (2008.4, 15.8), (2009.3, 13.5), (2010.2, 9.4), (2011.3, 12.3),
     (2012.3, 11.2), (2013.2, 13.5), (2013.9, 14.0)],
    [(1970.3, 11.2), (1971.4, 25.9), (1972.0, 11.7), (1973.4, 12.3), (1975.5, 14.0), (1977.1, 13.5), (1978.9, 12.9),
     (1980.6, 25.0), (1981.2, 10.6), (1983.0, 11.2), (1985.0, 12.9), (1986.1, 9.4), (1987.1, 10.0), (1988.1, 24.4),
     (1989.1, 12.9), (1990.2, 13.5), (1991.1, 11.7), (1992.5, 14.0), (1993.9, 13.5), (1995.2, 14.6), (1996.6, 14.6),
     (1997.6, 15.2), (1999.3, 18.1), (2000.3, 12.9), (2001.4, 13.5), (2002.4, 14.0), (2003.8, 14.6), (2004.8, 14.0),
     (2006.2, 14.6), (2007.5, 15.2), (2008.5, 14.0), (2009.3, 12.3), (2010.2, 11.2), (2011.6, 13.5), (2012.9, 12.3),
     (2013.9, 12.9)],
    [(1970.0, 14.4), (1970.7, 22.7), (1971.4, 12.3), (1972.7, 13.5), (1974.1, 14.0), (1975.5, 12.9), (1980.0, 42.5),
     (1982.3, 16.4), (1983.3, 12.9), (1984.4, 11.2), (1985.1, 8.3), (1985.8, 7.7), (1986.5, 6.6), (1987.1, 5.4),
     (1988.5, 11.2), (1989.6, 13.5), (1990.5, 16.4), (1991.5, 12.9), (1992.9, 11.7), (1994.2, 14.6), (1995.6, 13.5),
     (1997.0, 14.6), (1998.4, 12.9), (1999.5, 15.2), (2000.8, 12.9), (2001.9, 11.2), (2002.9, 15.2), (2004.2, 11.7),
     (2005.6, 17.5), (2006.6, 14.0), (2007.7, 16.4), (2008.8, 15.2), (2009.7, 12.3), (2011.1, 11.2), (2012.1, 12.9),
     (2012.9, 12.3), (2013.8, 12.9)],
    [(1971.0, 11.2), (1975.5, 12.3), (1977.2, 18.1), (1978.9, 8.9), (1980.0, 8.3), (1980.9, 29.8), (1982.3, 18.1),
     (1987.3, 8.9), (1989.1, 11.2), (1992.2, 15.8), (1996.3, 6.6), (1997.3, 22.5), (1997.6, 7.1), (1998.2, 6.0),
     (1999.1, 5.4), (2000.0, 26.7), (2003.4, 12.9), (2005.5, 13.5), (2006.8, 8.9), (2010.5, 5.4), (2011.6, 7.1),
     (2013.2, 11.2), (2013.9, 13.5)],
    [(1970.3, 11.7), (1971.4, 11.2), (1975.1, 11.7), (1978.5, 11.7), (1979.6, 13.5), (1980.9, 15.2), (1981.9, 16.4),
     (1983.3, 17.0), (1985.6, 10.6), (1988.8, 15.8), (1990.1, 30.8), (1993.6, 16.4), (1997.0, 21.5), (1998.8, 13.5),
     (2001.8, 11.2), (2002.9, 24.4), (2004.8, 23.9), (2006.2, 14.6), (2008.4, 8.3), (2009.7, 9.4), (2011.1, 11.2),
     (2012.5, 17.0), (2013.8, 22.7)],
]
RODEPOON_FIT = [
    [(1970.9, 9.3), (1978, 9.4), (1988, 10), (1996, 9.8), (1998.6, 8.6), (2005, 8.3), (2013.5, 8.9)],
    [(1971.3, 10.3), (1980, 10.4), (1990, 10.4), (1996, 10.1), (2002, 9.7), (2006.7, 8.3), (2013.9, 7.2)],
    [(1970.5, 12.5), (1975, 12.4), (1980, 12.2), (1985, 12.2), (1990, 12.4), (1995, 12), (2000, 11.3), (2005, 10.8),
     (2010, 10.3), (2013.9, 10)],
    [(1970.7, 15.5), (1975, 15.7), (1980, 14.5), (1985, 14.2), (1990, 14.2), (1995, 14.5), (2000, 14.3), (2005, 14),
     (2010, 13.4), (2013.9, 12.8)],
    [(1970.3, 15.8), (1980.6, 15.8), (1986.1, 14.6), (1993.9, 14), (2003, 14.6), (2013.9, 13.5)],
    [(1970, 16.4), (1979.6, 15.8), (1985.8, 12.9), (1990, 12.3), (1997, 12.9), (2008, 12.9), (2013.8, 12.5)],
    [(1971, 11.7), (1978.6, 14.6), (1984, 14.8), (1988.7, 12.9), (1995, 12.9), (1998.3, 14), (2002.4, 12.9),
     (2007.2, 11.7), (2014.0, 10)],
    [(1970.3, 11.7), (1975.1, 11.7), (1981.2, 15.8), (1986.7, 18.1), (1992.2, 19.5), (1996.3, 17), (2001.1, 14.8),
     (2005.9, 14.6), (2010, 14.6), (2012.5, 17), (2013.8, 20)],
]

# error bars: (species index, region index, year, low, high)
ERRORS = [
    (0, 3, 2001.3, 15.3, 19.5), (0, 4, 1986.8, 11.5, 18.9), (0, 7, 1996.1, 8.7, 14.8),
    (1, 0, 1976.8, 17.3, 19.2), (1, 0, 1987.5, 15.9, 21.4), (1, 0, 2012.3, 9.3, 14.0),
    (1, 1, 1970.9, 11.9, 15.9), (1, 1, 2009.4, 12.4, 18.4), (1, 3, 1975.0, 14.5, 19.8),
    (1, 3, 2011.6, 2.9, 9.0), (1, 3, 2012.1, 3.5, 8.5), (1, 4, 2009.9, 15.5, 20.5),
    (1, 5, 1970.4, 4.1, 23.0), (1, 5, 1995.1, 11.0, 17.0), (1, 5, 2001.3, 15.9, 19.8),
    (1, 6, 1971.0, 10.4, 16.4), (1, 7, 1975.6, 16.8, 20.6),
    (2, 0, 1985.0, 8.5, 11.5), (2, 0, 2001.3, 11.0, 21.3), (2, 0, 2002.6, 11.0, 18.7),
    (2, 0, 2003.9, 11.5, 19.0), (2, 1, 2003.2, 13.8, 21.5), (2, 2, 2008.3, 11.5, 16.8),
    (2, 3, 1973.5, 18.5, 22.3), (2, 4, 2007.1, 20.0, 23.8), (2, 5, 1972.7, 20.4, 27.1),
    (2, 5, 1987.8, 19.5, 26.2), (2, 5, 1994.0, 12.5, 21.0), (2, 6, 1973.1, 13.7, 22.6),
    (2, 6, 1977.2, 19.5, 24.0), (2, 6, 2005.1, 17.5, 22.0), (2, 6, 2013.3, 15.5, 22.5),
    (2, 7, 1980.1, 22.3, 28.0), (2, 7, 1984.0, 20.5, 23.5),
    (3, 0, 1977.9, 8.1, 12.9), (3, 2, 1984.7, 9.7, 17.0), (3, 2, 1988.3, 14.8, 17.0),
    (3, 3, 1979.6, 13.5, 17.0), (3, 4, 1985.4, 13.7, 19.1), (3, 5, 1974.8, 9.4, 13.0),
    (3, 6, 2003.2, 13.5, 17.0), (3, 7, 1973.3, 14.4, 20.3),
    (4, 3, 1972.6, 14.2, 25.2), (4, 3, 1982.5, 11.3, 24.3), (4, 3, 1987.4, 12.0, 20.0),
    (4, 4, 1991.1, 11.3, 22.0), (4, 4, 2003.0, 11.3, 19.7), (4, 6, 1985.0, 11.3, 21.1),
    (4, 6, 2008.2, 11.5, 22.3), (4, 7, 1973.0, 13.9, 26.3), (4, 7, 1971.9, 17.5, 23.0),
    (5, 0, 1970.9, 13.2, 36.7), (5, 0, 1977.9, 10.6, 32.9), (5, 0, 1981.8, 8.1, 27.8),
    (5, 0, 1984.8, 22.7, 38.6), (5, 0, 1991.2, 10.6, 18.4), (5, 0, 1999.0, 10.6, 19.5),
    (5, 1, 1971.3, 12.5, 22.5), (5, 1, 1986.4, 13.0, 23.5), (5, 1, 2006.4, 11.0, 17.0),
    (5, 2, 1970.5, 24.6, 35.2), (5, 2, 1991.2, 28.0, 35.0), (5, 2, 2001.2, 19.5, 27.3),
    (5, 3, 1971.3, 19.5, 34.8), (5, 4, 1984.3, 12.0, 41.0), (5, 4, 1987.1, 13.0, 40.3),
    (5, 4, 1989.1, 12.0, 40.0), (5, 4, 1991.1, 12.0, 41.0), (5, 4, 1998.4, 12.0, 33.0),
    (5, 4, 2002.1, 12.0, 33.0), (5, 4, 2005.5, 12.0, 31.0), (5, 4, 2008.9, 10.0, 26.0),
    (5, 4, 2012.3, 10.0, 26.5), (5, 5, 1976.8, 11.9, 33.5), (5, 5, 1993.3, 10.6, 41.7),
    (5, 5, 2004.9, 10.6, 34.1), (5, 5, 2012.1, 16.0, 31.0), (5, 6, 1974.1, 39.8, 48.1),
    (5, 6, 1980.2, 10.6, 38.0), (5, 6, 2003.4, 10.6, 32.2), (5, 7, 1973.3, 12.0, 29.0),
    (5, 7, 1976.8, 10.0, 24.0), (5, 7, 1985.6, 15.7, 38.6), (5, 7, 2001.8, 22.7, 36.0),
    (5, 7, 2007.0, 25.0, 34.0),
    (6, 3, 1981.8, 15.0, 22.0), (6, 4, 1980.6, 10.0, 40.5), (6, 6, 1977.2, 12.3, 23.0),
    (6, 6, 1980.9, 9.4, 30.0), (6, 6, 1987.3, 3.5, 14.6), (6, 7, 1997.0, 10.0, 33.1),
    (6, 7, 2013.8, 15.2, 31.3),
]

POINTS = [DWERGTONG_PTS, STEENBOLK_PTS, WIJTING_PTS, VIJFDRA_PTS, PUITAAL_PTS, ZEENAALD_PTS, RODEPOON_PTS]
FITS = [DWERGTONG_FIT, STEENBOLK_FIT, WIJTING_FIT, VIJFDRA_FIT, PUITAAL_FIT, ZEENAALD_FIT, RODEPOON_FIT]

FONT = "Liberation Sans"
PANEL_W, PANEL_H = 227, 126
COL_GAP, ROW_GAP = 10.43, 12
STRIP_H, STRIP_W = 46, 40
PANEL_BG, STRIP_BG = "#E5E5E5", "#CCCCCC"
AXIS_GREY = "#7F7F7F"
TEXT_DARK = "#1A1A1A"
NO_ELLIPSIS = "\u200b"


def panel(r, c):
    pdf = pd.DataFrame(POINTS[r][c], columns=["year", "val"])
    fdf = pd.DataFrame(FITS[r][c], columns=["year", "val"])
    edf = pd.DataFrame([(e[2], e[3], e[4]) for e in ERRORS if e[0] == r and e[1] == c],
                       columns=["year", "val", "val2"])
    bottom = r == len(SPECIES) - 1
    first = c == 0
    if bottom:
        xaxis = alt.Axis(values=X_TICKS, grid=True, domain=False, title=None, format="d",
                         labelAngle=270, labelAlign="right", labelBaseline="middle",
                         labelFontSize=22, labelColor=AXIS_GREY, labelPadding=-38, labelOffset=14,
                         labelFlush=False, labelOverlap=False, ticks=True, tickSize=7,
                         tickColor=AXIS_GREY, tickWidth=1.2)
    else:
        xaxis = alt.Axis(values=X_TICKS, grid=True, domain=False, title=None,
                         labels=False, ticks=False)
    if first:
        kw = dict(values=Y_TICKS[r], grid=True, domain=False, labelFontSize=22,
                  labelColor=AXIS_GREY, labelPadding=-11, labelFlush=False, labelOverlap=False,
                  ticks=True, tickSize=7, tickColor=AXIS_GREY, tickWidth=1.2)
        if r == 2:
            kw.update(title="gemiddelde lengte (cm)", titleAngle=270, titleX=-80, titleY=34,
                      titleAlign="center", titleBaseline="middle", titleFontSize=32,
                      titleFontWeight="normal", titleColor="black", titleFont=FONT)
        else:
            kw.update(title=None)
        yaxis = alt.Axis(**kw)
    else:
        yaxis = alt.Axis(values=Y_TICKS[r], grid=True, domain=False, title=None,
                         labels=False, ticks=False)
    xs = alt.Scale(domain=X_DOMAIN, nice=False, zero=False)
    ys = alt.Scale(domain=Y_DOMAINS[r], nice=False, zero=False)
    x = alt.X("year:Q", scale=xs, axis=xaxis)
    y = alt.Y("val:Q", scale=ys, axis=yaxis)
    layers = []
    if len(edf):
        layers.append(alt.Chart(edf).mark_rule(color="black", strokeWidth=1.5, clip=True)
                      .encode(x=x, y=y, y2="val2:Q"))
    layers.append(alt.Chart(pdf).mark_circle(size=85, color="black", opacity=1, clip=True)
                  .encode(x=x, y=y))
    layers.append(alt.Chart(fdf).mark_line(color="black", strokeWidth=1.6,
                                           interpolate="monotone", clip=True)
                  .encode(x=x, y=y))
    if r == 0:
        sdf = pd.DataFrame({"t": [REGIONS[c]]})
        layers.append(alt.Chart(sdf).mark_rect(color=STRIP_BG, clip=False).encode(
            x=alt.value(0), x2=alt.value(PANEL_W), y=alt.value(-STRIP_H), y2=alt.value(0)))
        layers.append(alt.Chart(sdf).mark_text(
            align="left", baseline="alphabetic", fontSize=26, font=FONT, color=TEXT_DARK,
            limit=113, ellipsis=NO_ELLIPSIS, clip=False
        ).encode(x=alt.value(PANEL_W / 2), y=alt.value(-8.5), text="t:N"))
    if c == len(REGIONS) - 1:
        rdf = pd.DataFrame({"t": [SPECIES[r]]})
        layers.append(alt.Chart(rdf).mark_rect(color=STRIP_BG, clip=False).encode(
            x=alt.value(PANEL_W), x2=alt.value(PANEL_W + STRIP_W), y=alt.value(0), y2=alt.value(PANEL_H)))
        layers.append(alt.Chart(rdf).mark_text(
            align="left", baseline="middle", angle=90, fontSize=23, font=FONT, color=TEXT_DARK,
            limit=66, ellipsis=NO_ELLIPSIS, clip=False
        ).encode(x=alt.value(PANEL_W + STRIP_W / 2), y=alt.value(PANEL_H / 2), text="t:N"))
    return alt.layer(*layers).properties(
        width=PANEL_W, height=PANEL_H, view=alt.ViewBackground(fill=PANEL_BG, stroke=None))


panels = [panel(r, c) for r in range(len(SPECIES)) for c in range(len(REGIONS))]

chart = alt.concat(
    *panels, columns=len(REGIONS), spacing={"row": ROW_GAP, "column": COL_GAP}, bounds="flush"
).properties(
    padding={"left": 14, "top": 9, "right": 0, "bottom": 0},
    background="white",
).configure(font=FONT).configure_view(stroke=None).configure_axis(
    gridColor="white", gridWidth=1.6
)

chart.save("out.html", embed_options={"renderer": "svg", "actions": False})
